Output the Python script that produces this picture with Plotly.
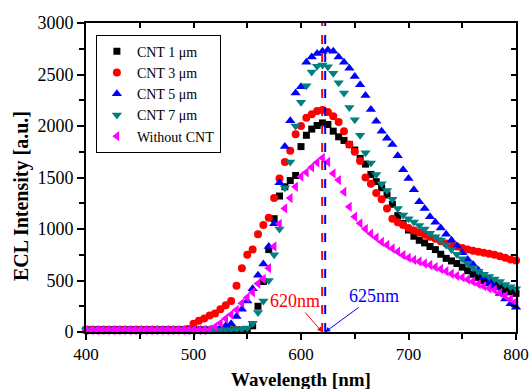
import plotly.graph_objects as go

wavelength = list(range(400, 805, 5))

flat = 20
cnt1 = [flat]*31 + [60, 250, 490, 800, 1100, 1320, 1410, 1470, 1520, 1800,
        1910, 1970, 2005, 2030, 2015, 1950, 1895, 1860, 1820, 1767,
        1686, 1630, 1530, 1460, 1400, 1330, 1240, 1130, 1055, 990,
        930, 890, 865, 830, 800, 755, 715, 690, 665, 630,
        595, 560, 530, 500, 480, 460, 440, 410, 390, 375]
cnt3 = [flat]*19 + [30, 80, 110, 130, 160, 180, 220, 260, 300, 450, 620,
        750, 800, 950, 1040, 1110, 1300, 1490, 1650, 1760, 1920,
        2000, 2080, 2115, 2145, 2155, 2135, 2095, 2040, 1950, 1820,
        1750, 1660, 1500, 1440, 1350, 1290, 1200, 1100, 1065, 1040,
        1010, 985, 965, 945, 925, 905, 880, 860, 845, 830,
        815, 800, 790, 780, 770, 760, 750, 735, 720, 705, 695]
cnt5 = [flat]*24 + [25, 40, 60, 80, 150, 220, 300, 420, 550, 660,
        830, 1050, 1450, 1800, 2050, 2320, 2380, 2620, 2670, 2705,
        2725, 2738, 2725, 2670, 2620, 2560, 2480, 2400, 2295, 2160,
        2045, 1950, 1880, 1820, 1710, 1575, 1490, 1380, 1265, 1200,
        1120, 1065, 1010, 950, 890, 835, 770, 705, 655, 600,
        535, 480, 430, 375, 320, 275, 240]
cnt7 = [flat]*27 + [22, 25, 30, 40, 84, 190, 300, 500, 750, 1000,
        1400, 1650, 2000, 2230, 2390, 2525, 2580, 2592, 2575, 2512,
        2420, 2320, 2180, 2060, 1910, 1740, 1640, 1530, 1440, 1375,
        1290, 1200, 1136, 1100, 1068, 1035, 1000, 958, 925, 890,
        845, 800, 755, 710, 665, 625, 590, 560, 540, 515,
        490, 460, 440, 420]
without = [flat]*23 + [25, 50, 85, 130, 170, 215, 280, 335, 385, 470,
        515, 620, 830, 1050, 1200, 1300, 1410, 1510, 1550, 1600,
        1645, 1690, 1650, 1540, 1475, 1360, 1215, 1120, 1055, 1000,
        955, 915, 875, 845, 810, 780, 745, 720, 700, 685,
        665, 650, 630, 612, 590, 565, 545, 530, 510, 490,
        465, 445, 425, 410, 380, 350, 320, 295]

series = [
    ("CNT 1 \u03bcm", cnt1, "#000000", "square", 7),
    ("CNT 3 \u03bcm", cnt3, "#ff0000", "circle", 8),
    ("CNT 5 \u03bcm", cnt5, "#0000ff", "triangle-up", 9),
    ("CNT 7 \u03bcm", cnt7, "#008080", "triangle-down", 9),
    ("Without CNT", without, "#ff00ff", "triangle-left", 9),
]

peak_red = 619.7
peak_blue = 622.5
label_red = "620nm"
label_blue = "625nm"
x_title = "Wavelength [nm]"
y_title = "ECL Intensity [a.u.]"

font = "Liberation Serif, Times New Roman, serif"
fig = go.Figure()
for name, vals, col, sym, sz in series:
    fig.add_trace(go.Scatter(x=wavelength, y=vals, mode="markers", name=name,
                             marker=dict(symbol=sym, color=col, size=sz, line=dict(width=0)),
                             cliponaxis=False))
fig.add_trace(go.Scatter(x=[], y=[], xaxis="x2", yaxis="y2", showlegend=False))

for xv, col in ((peak_red, "#ff0000"), (peak_blue, "#0000ff")):
    fig.add_shape(type="line", xref="x", yref="paper", x0=xv, x1=xv, y0=0, y1=1,
                  line=dict(color=col, width=2, dash="dash"))

fig.add_annotation(x=peak_red, y=0, xref="x", yref="y", text=label_red, showarrow=True,
                   ax=-27, ay=-31, arrowhead=2, arrowsize=1, arrowwidth=1, arrowcolor="#ff0000",
                   font=dict(family=font, size=18, color="#ff0000"))
fig.add_annotation(x=peak_blue, y=0, xref="x", yref="y", text=label_blue, showarrow=True,
                   ax=49, ay=-36, arrowhead=2, arrowsize=1, arrowwidth=1, arrowcolor="#0000ff",
                   font=dict(family=font, size=18, color="#0000ff"))

fig.add_annotation(x=0.5, y=-0.155, xref="paper", yref="paper", text="<b>%s</b>" % x_title,
                   showarrow=False, xanchor="center", yanchor="middle",
                   font=dict(family=font, size=19, color="black"))
fig.add_annotation(x=-0.151, y=0.44, xref="paper", yref="paper", text="<b>%s</b>" % y_title,
                   showarrow=False, xanchor="center", yanchor="middle", textangle=-90,
                   font=dict(family=font, size=20, color="black"))

axis_common = dict(showgrid=False, zeroline=False, showline=True, linecolor="black",
                   linewidth=2, mirror=True, ticks="outside", tickwidth=2, tickcolor="black",
                   automargin=False)
fig.update_layout(
    width=531, height=389,
    margin=dict(l=86, r=15, t=23, b=57),
    paper_bgcolor="white", plot_bgcolor="white",
    xaxis=dict(range=[400, 800], dtick=100, ticklen=6,
               minor=dict(dtick=50, ticks="outside", ticklen=5, tickwidth=2, tickcolor="black"),
               tickfont=dict(family=font, size=17, color="black"),
               **axis_common),
    yaxis=dict(range=[0, 3000], dtick=500, ticklen=7,
               minor=dict(dtick=250, ticks="outside", ticklen=5, tickwidth=2, tickcolor="black"),
               tickfont=dict(family=font, size=18, color="black"),
               **axis_common),
    xaxis2=dict(overlaying="x", side="top", anchor="y", range=[400, 800], dtick=50,
                ticks="inside", ticklen=5, tickwidth=2, tickcolor="black", automargin=False,
                showticklabels=False, showgrid=False, zeroline=False, showline=False),
    yaxis2=dict(overlaying="y", side="right", anchor="x", range=[0, 3000], dtick=250,
                ticks="inside", ticklen=5, tickwidth=2, tickcolor="black", automargin=False,
                showticklabels=False, showgrid=False, zeroline=False, showline=False),
    legend=dict(x=0.023, y=0.962, xanchor="left", yanchor="top",
                bordercolor="black", borderwidth=1, bgcolor="rgba(255,255,255,0)",
                font=dict(family=font, size=14, color="black"), tracegroupgap=0,
                itemwidth=30),
    showlegend=True,
)
fig.write_html("out.html")
